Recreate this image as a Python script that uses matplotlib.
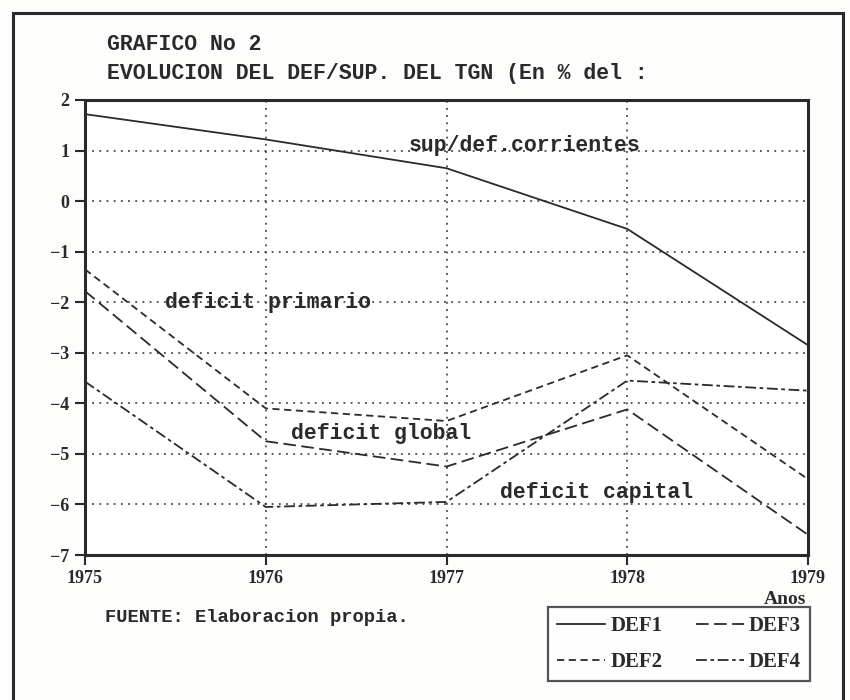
import matplotlib.pyplot as plt
from matplotlib.patches import Rectangle

years = [1975, 1976, 1977, 1978, 1979]
def1 = [1.72, 1.22, 0.65, -0.55, -2.85]    # sup/def. corrientes
def2 = [-1.35, -4.1, -4.35, -3.05, -5.5]   # deficit primario
def3 = [-1.78, -4.75, -5.25, -4.12, -6.6]  # deficit global
def4 = [-3.57, -6.05, -5.95, -3.55, -3.75] # deficit capital
yticks = [2, 1, 0, -1, -2, -3, -4, -5, -6, -7]

ink = '#2a2a2a'
serif = 'Liberation Serif'
mono = 'Liberation Mono'

fig = plt.figure(figsize=(8.5, 7), dpi=100)
fig.patch.set_facecolor('#fdfdfb')

# outer frame of the scanned page
fig.add_artist(Rectangle((13 / 850, -0.05), 830 / 850, 1 - 13 / 700 + 0.05,
                         transform=fig.transFigure, fill=False,
                         edgecolor=ink, linewidth=2.2))

ax = fig.add_axes([85 / 850, 1 - 555 / 700, (808 - 85) / 850, (555 - 100) / 700])
ax.set_facecolor('white')

ax.plot(years, def1, color=ink, lw=1.3, linestyle='-', label='DEF1')
ax.plot(years, def2, color=ink, lw=1.3, linestyle=(0, (4, 2.5)), label='DEF2')
ax.plot(years, def3, color=ink, lw=1.3, linestyle=(0, (7, 3)), label='DEF3')
ax.plot(years, def4, color=ink, lw=1.3, linestyle=(0, (6, 2, 2, 2)), label='DEF4')

ax.set_xlim(1975, 1979)
ax.set_ylim(-7, 2)
ax.set_xticks(years)
ax.set_yticks(yticks)
ax.grid(True, color=ink, linestyle=(0, (1.2, 3.5)), linewidth=1.1)
for s in ax.spines.values():
    s.set_linewidth(2.2)
    s.set_color(ink)
ax.tick_params(direction='out', length=7, width=1.5, color=ink, pad=4)
for lab in ax.get_xticklabels() + ax.get_yticklabels():
    lab.set_fontfamily(serif)
    lab.set_fontweight('bold')
    lab.set_fontsize(13)
    lab.set_color(ink)

txt = dict(family=mono, fontweight='bold', fontsize=15.5, color=ink)
ax.text(1977.43, 1.1, 'sup/def.corrientes', ha='center', va='center', **txt)
ax.text(1976.01, -2.0, 'deficit primario', ha='center', va='center', **txt)
ax.text(1976.64, -4.6, 'deficit global', ha='center', va='center', **txt)
ax.text(1977.83, -5.77, 'deficit capital', ha='center', va='center', **txt)

hdr = dict(family=mono, fontweight='bold', fontsize=15.5, color=ink)
fig.text(107 / 850, 1 - 45 / 700, 'GRAFICO No 2', va='center', **hdr)
fig.text(107 / 850, 1 - 74 / 700, 'EVOLUCION DEL DEF/SUP. DEL TGN (En % del :',
         va='center', **hdr)
fig.text(785 / 850, 1 - 600 / 700, 'Anos', ha='center', va='center',
         family=serif, fontweight='bold', fontsize=14, color=ink)
fig.text(105 / 850, 1 - 617 / 700, 'FUENTE: Elaboracion propia.', va='center',
         family=mono, fontweight='bold', fontsize=13.5, color=ink)

leg = ax.legend(ncol=2, loc='upper left', bbox_to_anchor=(548 / 850, 1 - 607 / 700),
                bbox_transform=fig.transFigure, frameon=True, fancybox=False,
                prop={'family': serif, 'weight': 'bold', 'size': 15},
                handlelength=2.3, handletextpad=0.25, columnspacing=1.6,
                borderpad=0.45, labelspacing=0.75, borderaxespad=0)
leg.get_frame().set_edgecolor(ink)
leg.get_frame().set_linewidth(1.6)
for t in leg.get_texts():
    t.set_color(ink)

fig.savefig('out.png', dpi=100, facecolor=fig.get_facecolor())
